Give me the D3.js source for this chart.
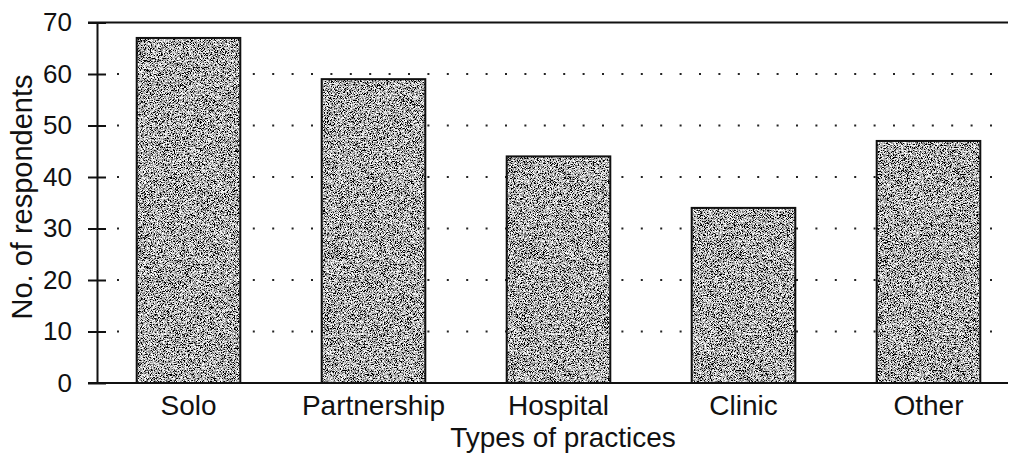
<!DOCTYPE html>
<html>
<head>
<meta charset="utf-8">
<script src="https://cdn.jsdelivr.net/npm/d3@7"></script>
<style>
  body { margin: 0; background: #fff; }
  text { font-family: "Liberation Sans", Arial, Helvetica, sans-serif; fill: #111; }
</style>
</head>
<body>
<svg id="chart"></svg>
<script>
var width = 1015;
var height = 453;

// data
var categories = ["Solo", "Partnership", "Hospital", "Clinic", "Other"];
var respondents = [67, 59, 44, 34, 47];
var yTicks = [0, 10, 20, 30, 40, 50, 60, 70];
var gridTicks = [10, 20, 30, 40, 50, 60];

var xTitle = "Types of practices";
var yTitle = "No. of respondents";

var svg = d3.select("#chart")
    .attr("width", width)
    .attr("height", height);

// grainy grey fill like the printed original
var defs = svg.append("defs");
var grain = defs.append("filter")
    .attr("id", "grain")
    .attr("x", 0).attr("y", 0)
    .attr("width", 1).attr("height", 1);
grain.append("feTurbulence")
    .attr("type", "fractalNoise")
    .attr("baseFrequency", 1.3)
    .attr("numOctaves", 2)
    .attr("seed", 7)
    .attr("result", "noise");
grain.append("feColorMatrix")
    .attr("in", "noise")
    .attr("type", "matrix")
    .attr("values", "3.6 0 0 0 -1.35  3.6 0 0 0 -1.35  3.6 0 0 0 -1.35  0 0 0 0 1")
    .attr("result", "grey");
grain.append("feComposite")
    .attr("in", "grey")
    .attr("in2", "SourceGraphic")
    .attr("operator", "in");

// scales
var x = d3.scaleBand()
    .domain(categories)
    .range([96, 1021])
    .paddingInner(0.44)
    .paddingOuter(0.22);

var y = d3.scaleLinear()
    .domain([0, 70])
    .range([383, 22.5]);

var axisX = 97;
var right = 1008;

// dotted grid lines
svg.append("g")
    .selectAll("line")
    .data(gridTicks)
    .join("line")
    .attr("x1", 117)
    .attr("x2", right)
    .attr("y1", d => y(d))
    .attr("y2", d => y(d))
    .attr("stroke", "#222")
    .attr("stroke-width", 2)
    .attr("stroke-dasharray", "2,17.4");

// bars
var bars = svg.append("g");
bars.selectAll("rect.fill")
    .data(respondents)
    .join("rect")
    .attr("class", "fill")
    .attr("x", (d, i) => x(categories[i]))
    .attr("y", d => y(d))
    .attr("width", x.bandwidth())
    .attr("height", d => y(0) - y(d))
    .attr("fill", "#888")
    .attr("filter", "url(#grain)");
bars.selectAll("rect.edge")
    .data(respondents)
    .join("rect")
    .attr("class", "edge")
    .attr("x", (d, i) => x(categories[i]))
    .attr("y", d => y(d))
    .attr("width", x.bandwidth())
    .attr("height", d => y(0) - y(d))
    .attr("fill", "none")
    .attr("stroke", "#111")
    .attr("stroke-width", 2);

// y axis with ticks crossing the line
svg.append("g")
    .attr("transform", `translate(${axisX},0)`)
    .call(d3.axisLeft(y).tickValues(yTicks).tickSize(9).tickSizeOuter(0).tickPadding(16))
    .call(g => g.select(".domain").attr("stroke", "#111").attr("stroke-width", 2))
    .call(g => g.selectAll(".tick line").attr("x2", 9).attr("x1", -9)
        .attr("stroke", "#111").attr("stroke-width", 2))
    .call(g => g.selectAll(".tick text")
        .style("font-family", "'Liberation Sans', Arial, sans-serif")
        .attr("font-size", 26)
        .attr("fill", "#111"));

// top frame line and bottom baseline
svg.append("line")
    .attr("x1", 88).attr("x2", right)
    .attr("y1", y(70)).attr("y2", y(70))
    .attr("stroke", "#111").attr("stroke-width", 2);
svg.append("line")
    .attr("x1", 88).attr("x2", right)
    .attr("y1", y(0)).attr("y2", y(0))
    .attr("stroke", "#111").attr("stroke-width", 2);

// category labels
svg.append("g")
    .selectAll("text")
    .data(categories)
    .join("text")
    .attr("x", d => x(d) + x.bandwidth() / 2)
    .attr("y", 415)
    .attr("text-anchor", "middle")
    .attr("font-size", 28)
    .text(d => d);

// axis titles
svg.append("text")
    .attr("x", 563)
    .attr("y", 447)
    .attr("text-anchor", "middle")
    .attr("font-size", 28)
    .text(xTitle);

svg.append("text")
    .attr("transform", "translate(32,197) rotate(-90)")
    .attr("text-anchor", "middle")
    .attr("font-size", 29)
    .text(yTitle);
</script>
</body>
</html>
